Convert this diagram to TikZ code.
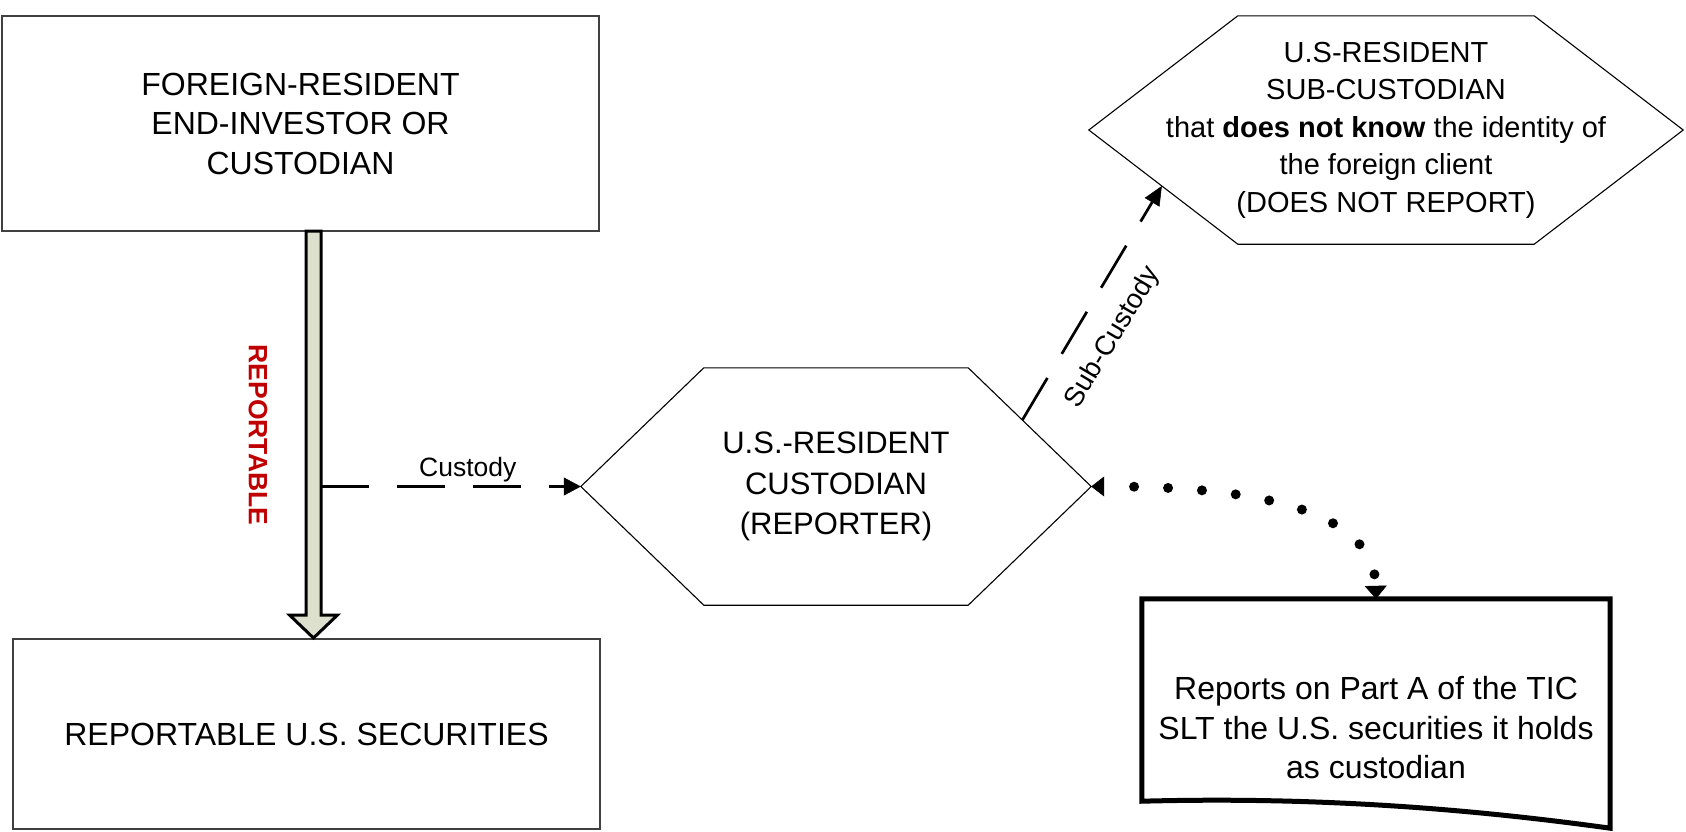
\documentclass[tikz,border=0pt]{standalone}
\usepackage{fontspec}
\setmainfont{Liberation Sans}
\usetikzlibrary{arrows.meta,calc}
\definecolor{shaftfill}{RGB}{221,224,204}
\definecolor{repred}{RGB}{192,0,0}

\begin{document}
\begin{tikzpicture}[x=1pt,y=-1pt,
  box/.style={draw=black!75, line width=1.5pt, inner sep=0pt},
  hexbody/.style={inner sep=0pt},
  hexline/.style={draw=black, line width=1.1pt, line join=miter},
  bigtext/.style={font=\fontsize{32}{39.5}\selectfont, align=center},
  flowarrow/.style={draw=black, line width=3pt, fill=shaftfill, line join=miter},
  dashline/.style={line width=2.7pt, dash pattern=on 48pt off 28pt},
  subdash/.style={line width=2.7pt, dash pattern=on 49pt off 28pt},
  dotline/.style={line width=10pt, line cap=round, dash pattern=on 0pt off 34pt, dash phase=4pt},
  smalllabel/.style={font=\fontsize{26.5}{30}\selectfont}
]
\useasboundingbox (0,0) rectangle (1686,831);

% left column boxes
\node[box, minimum width=597pt, minimum height=215pt, bigtext] (src) at (300.5,123.5)
  {FOREIGN-RESIDENT\\END-INVESTOR OR\\CUSTODIAN};
\node[box, minimum width=587pt, minimum height=190pt, bigtext] (sec) at (306.5,734)
  {REPORTABLE U.S. SECURITIES};

% broad downward arrow
\coordinate (flowtop) at (313.5,231);
\coordinate (flowtip) at (313.5,638);
\draw[flowarrow] ($(flowtop)+(-7.5,0)$) -- ($(flowtip)+(-7.5,-23)$) -- ($(flowtip)+(-24,-23)$)
  -- (flowtip) -- ($(flowtip)+(24,-23)$) -- ($(flowtip)+(7.5,-23)$) -- ($(flowtop)+(7.5,0)$) -- cycle;
\node[rotate=-90, text=repred, font=\bfseries\fontsize{26.5}{30}\selectfont] (rlabel) at (258,435) {REPORTABLE};

% custodian hexagon
\node[hexbody, minimum width=510pt, minimum height=237pt, align=center,
      font=\fontsize{31}{40.5}\selectfont] (cust) at (836,486.5)
  {U.S.-RESIDENT\\CUSTODIAN\\(REPORTER)};
\coordinate (cust-nw) at ([xshift=123pt]cust.north west);
\coordinate (cust-ne) at ([xshift=-123pt]cust.north east);
\coordinate (cust-se) at ([xshift=-123pt]cust.south east);
\coordinate (cust-sw) at ([xshift=123pt]cust.south west);
\draw[hexline] (cust.west) -- (cust-nw) -- (cust-ne) -- (cust.east) -- (cust-se) -- (cust-sw) -- cycle;

% sub-custodian hexagon
\node[hexbody, minimum width=594pt, minimum height=228pt, align=center,
      font=\fontsize{29}{37.5}\selectfont] (sub) at (1386,130)
  {U.S-RESIDENT\\SUB-CUSTODIAN\\that \textbf{does not know} the identity of\\the foreign client\\(DOES NOT REPORT)};
\coordinate (sub-nw) at ([xshift=149pt]sub.north west);
\coordinate (sub-ne) at ([xshift=-149pt]sub.north east);
\coordinate (sub-se) at ([xshift=-149pt]sub.south east);
\coordinate (sub-sw) at ([xshift=149pt]sub.south west);
\draw[hexline] (sub.west) -- (sub-nw) -- (sub-ne) -- (sub.east) -- (sub-se) -- (sub-sw) -- cycle;

% report document
\node[inner sep=0pt, minimum width=468pt, minimum height=202pt] (rep) at (1376,700) {};
\coordinate (rep-br) at ([yshift=-27pt]rep.south east);
\draw[line width=5pt, line join=miter] (rep.south west) -- (rep.north west) -- (rep.north east)
  -- (rep-br) .. controls (1450,806) and (1300,797) .. (rep.south west) -- cycle;
\node[bigtext] (reptext) at (1376,728)
  {Reports on Part A of the TIC\\SLT the U.S. securities it holds\\as custodian};

% connectors
\coordinate (custStart) at (321,486.5);
\draw[dashline, -{Triangle[length=17pt,width=18pt,line width=0.5pt]}] (custStart) -- (cust.west)
  node[pos=0.565, anchor=south, inner sep=3pt, smalllabel] (custlabel) {Custody};

\coordinate (subStart) at ($(cust.east)!0.56!(cust-ne)$);
\coordinate (subEnd) at ($(sub.west)!0.49!(sub-sw)$);
\draw[subdash, -{Triangle[length=19pt,width=17pt,line width=0.5pt]}] (subStart) -- (subEnd)
  node[pos=0.43, sloped, anchor=north, inner sep=0pt, outer sep=23pt,
       font=\fontsize{27.5}{30}\selectfont] (sublabel) {Sub-Custody};

\draw[dotline, {Triangle[length=13pt,width=20pt,line width=0.5pt]}-{Triangle[length=13pt,width=22pt,line width=0.5pt]}]
  (cust.east) .. controls (1255,486) and (1374,510) .. (rep.north);
\end{tikzpicture}
\end{document}
